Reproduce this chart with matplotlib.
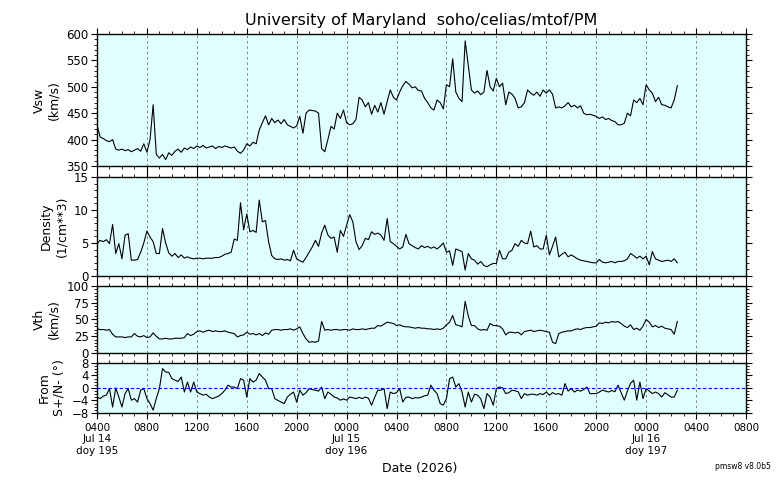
import numpy as np
import pandas as pd
import matplotlib
matplotlib.use('Agg')
import matplotlib.pyplot as plt
import matplotlib.dates as mdates
from matplotlib.ticker import MultipleLocator, FuncFormatter

# 15-minute samples starting 2026-07-14 04:00
start = '2026-07-14 04:00'

vsw = [
    428, 405, 402, 398, 396, 400, 382, 380,
    382, 379, 381, 377, 380, 383, 378, 392,
    376, 400, 466, 372, 365, 372, 362, 375,
    370, 378, 382, 376, 384, 381, 386, 383,
    388, 385, 389, 384, 386, 388, 383, 387,
    385, 388, 386, 384, 386, 378, 374, 380,
    392, 388, 395, 392, 418, 432, 445, 428,
    440, 432, 437, 430, 438, 428, 425, 422,
    426, 444, 412, 450, 456, 455, 454, 450,
    383, 377, 400, 425, 420, 450, 440, 456,
    432, 428, 430, 438, 480, 475, 462, 470,
    448, 465, 452, 470, 448, 472, 494, 480,
    475, 490, 502, 510, 505, 498, 500, 493,
    492, 478, 470, 460, 456, 475, 470, 458,
    504, 500, 553, 490, 478, 472, 587, 540,
    494, 488, 492, 485, 490, 531, 500, 492,
    516, 500, 507, 466, 490, 486, 478, 460,
    462, 470, 494, 488, 484, 490, 482, 494,
    488, 494, 486, 460, 462, 460, 464, 470,
    462, 465, 460, 464, 450, 447, 448, 446,
    444, 440, 443, 438, 440, 436, 434, 428,
    428, 431, 450, 445, 475, 470, 478, 466,
    504, 494, 488, 472, 480, 466, 465, 462,
    460, 475, 502]

density = [
    4.9, 5.4, 5.2, 5.5, 4.9, 7.8, 3.4, 4.9,
    2.6, 6.2, 6.4, 2.4, 2.4, 2.5, 3.6, 5.0,
    6.8, 5.9, 5.2, 3.4, 3.4, 7.2, 5.0, 3.5,
    3.0, 3.4, 2.8, 3.2, 2.7, 2.9, 2.7, 2.6,
    2.7, 2.7, 2.6, 2.7, 2.7, 2.7, 2.8, 2.8,
    3.0, 3.3, 3.4, 3.6, 5.6, 5.4, 11.1, 7.0,
    9.4, 6.7, 6.9, 6.6, 11.5, 8.2, 8.4, 5.2,
    3.1, 2.6, 2.5, 2.6, 2.4, 2.5, 2.3, 3.9,
    2.6, 2.3, 2.1, 2.8, 3.6, 4.4, 5.4, 4.5,
    6.5, 7.7, 6.2, 5.7, 5.9, 3.6, 6.9, 6.0,
    7.7, 9.3, 8.2, 5.2, 4.0, 4.6, 5.7, 5.5,
    6.7, 6.3, 6.5, 6.2, 5.4, 8.7, 5.2, 4.9,
    4.5, 4.1, 4.4, 6.3, 4.9, 4.6, 4.3, 4.1,
    4.6, 4.3, 4.5, 4.2, 4.4, 4.1, 4.5, 5.0,
    3.6, 3.8, 1.6, 4.1, 3.9, 3.7, 0.9, 3.4,
    2.6, 2.4, 1.8, 2.2, 1.6, 1.4, 1.7, 1.9,
    1.9, 3.9, 2.6, 2.6, 3.6, 3.9, 4.9, 4.5,
    5.4, 5.0, 4.9, 6.8, 4.4, 4.6, 4.1, 4.1,
    6.2, 3.2, 4.5, 5.9, 2.9, 3.3, 3.6, 2.9,
    3.2, 2.9, 2.6, 2.4, 2.3, 2.2, 2.1, 2.0,
    2.0, 2.5, 2.1, 2.0, 2.1, 2.2, 2.0, 2.2,
    2.2, 2.3, 2.6, 3.4, 3.1, 2.7, 3.0, 2.6,
    3.0, 1.7, 3.7, 2.6, 2.4, 2.2, 2.3, 2.4,
    2.2, 2.6, 2.0]

vth = [
    36, 35, 35, 34, 35, 28, 24, 24,
    24, 23, 24, 24, 29, 25, 24, 26,
    23, 24, 30, 25, 21, 21, 22, 21,
    21, 22, 22, 22, 23, 29, 26, 28,
    32, 33, 31, 33, 34, 32, 33, 32,
    32, 33, 31, 30, 29, 24, 26, 27,
    31, 28, 29, 27, 29, 26, 30, 28,
    34, 35, 35, 34, 35, 35, 36, 34,
    36, 39, 29, 21, 16, 17, 16, 18,
    47, 34, 35, 34, 35, 35, 34, 35,
    35, 34, 36, 35, 35, 36, 35, 36,
    37, 37, 41, 40, 43, 46, 45, 44,
    41, 42, 40, 39, 39, 38, 37, 38,
    37, 37, 36, 36, 35, 36, 35, 37,
    42, 46, 56, 42, 41, 39, 77, 55,
    41, 41, 36, 34, 35, 34, 44, 41,
    41, 40, 36, 27, 31, 31, 30, 31,
    27, 32, 33, 34, 32, 33, 34, 33,
    32, 31, 16, 14, 29, 31, 32, 33,
    33, 35, 36, 35, 37, 38, 38, 39,
    40, 45, 44, 46, 45, 47, 46, 47,
    44, 40, 38, 42, 35, 37, 34, 40,
    50, 46, 39, 41, 38, 40, 37, 36,
    35, 28, 47]

from_sn = [
    -2.9, -3.4, -2.6, -2.3, -0.2, -6.1, 0.0, -2.9,
    -6.1, -1.8, -0.2, -3.9, -3.4, -4.5, -0.7, -0.2,
    -3.4, -5.0, -7.1, -3.4, -0.2, 6.2, 5.1, 5.0,
    3.0, 2.5, 2.1, 3.5, -1.3, 1.9, -1.3, 1.9,
    -1.3, -1.8, -2.3, -2.0, -2.9, -3.4, -3.0, -2.6,
    -1.8, -0.7, 0.9, 0.3, 0.3, -0.2, 3.0, 2.5,
    -2.9, 3.0, 1.9, 2.5, 4.6, 3.5, 2.5, -0.2,
    -0.2, -3.4, -4.0, -4.5, -5.0, -2.9, -2.0, -1.3,
    -4.5, -0.7, -2.3, -1.5, -0.2, -0.5, -0.7, -1.0,
    0.3, -3.4, -1.3, -2.0, -2.9, -3.2, -3.9, -3.5,
    -3.9, -2.9, -3.1, -3.4, -3.0, -3.4, -2.9, -3.3,
    -5.5, -3.0, -0.7, -0.7, -0.2, -6.6, -1.3, -1.8,
    -1.5, -0.2, -4.5, -3.0, -2.9, -3.4, -3.1, -3.2,
    -2.9, -2.5, -2.3, 0.9, -0.7, -1.8, -5.0, -5.5,
    -3.4, 3.0, 3.5, 0.3, 1.4, -1.3, -6.1, -1.3,
    -4.5, -2.0, -2.3, -3.5, -6.6, -1.8, -2.9, -5.5,
    -0.2, 0.3, 0.0, -1.8, -1.5, -0.7, -0.9, -1.2,
    -3.4, -1.8, -2.3, -2.0, -2.0, -2.3, -1.8, -2.1,
    -1.3, -2.3, -1.5, -2.0, -1.8, -2.3, 1.4, -1.0,
    -0.2, -1.3, -0.7, -1.0, -0.5, 0.3, -1.8, -1.8,
    -1.8, -1.3, -0.7, -1.0, -1.3, -0.8, -1.2, 0.9,
    -1.5, -3.9, -1.0, 1.5, 2.5, -3.9, 1.9, -3.4,
    -0.2, -1.0, -1.8, -1.3, -1.8, -2.9, -1.5, -2.2,
    -2.9, -2.9, -0.7]

times = pd.date_range(start, periods=len(vsw), freq='15min')

panels = [
    (vsw, 'Vsw\n(km/s)', (350, 600), 50, 10),
    (density, 'Density\n(1/cm**3)', (0, 15), 5, 1),
    (vth, 'Vth\n(km/s)', (0, 100), 25, 5),
    (from_sn, 'From\nS+/N- (°)', (-8, 8), 4, 1),
]
# axes boxes in figure fractions (left, bottom, width, height)
boxes = [
    (0.125, 0.6542, 0.8363, 0.2750),
    (0.125, 0.4250, 0.8363, 0.2063),
    (0.125, 0.2646, 0.8363, 0.1396),
    (0.125, 0.1396, 0.8363, 0.1042),
]

xmin = pd.Timestamp('2026-07-14 04:00')
xmax = pd.Timestamp('2026-07-16 08:00')


def fmt_tick(x, pos):
    d = mdates.num2date(x).replace(tzinfo=None)
    s = d.strftime('%H%M')
    if d.hour == 0 or d == xmin.to_pydatetime():
        s += d.strftime('\n%b %d\ndoy %j')
    return s


fig = plt.figure(figsize=(7.76, 4.80), dpi=100)
axes = []
for (vals, label, ylim, major, minor), box in zip(panels, boxes):
    ax = fig.add_axes(box)
    ax.set_facecolor('#e0ffff')
    ax.plot(times, vals, color='black', lw=0.8)
    ax.set_xlim(xmin, xmax)
    ax.set_ylim(*ylim)
    ax.yaxis.set_major_locator(MultipleLocator(major))
    ax.yaxis.set_minor_locator(MultipleLocator(minor))
    ax.xaxis.set_major_locator(mdates.HourLocator(byhour=range(0, 24, 4)))
    ax.xaxis.set_minor_locator(mdates.HourLocator())
    ax.xaxis.set_major_formatter(FuncFormatter(fmt_tick))
    ax.tick_params(which='both', direction='out', top=True, right=True)
    ax.tick_params(which='major', length=4, width=0.8)
    ax.tick_params(which='minor', length=2.5, width=0.6)
    ax.tick_params(axis='y', labelsize=8.5, pad=2)
    ax.tick_params(axis='x', labelsize=7.5, pad=3)
    ax.grid(axis='x', which='major', color='gray', lw=0.7, ls=(0, (2.5, 3)))
    ax.set_ylabel(label, fontsize=9, labelpad=4)
    for sp in ax.spines.values():
        sp.set_linewidth(1.0)
    axes.append(ax)

for ax in axes[:-1]:
    ax.tick_params(axis='x', labelbottom=False)

axes[-1].axhline(0, color='blue', lw=0.8, ls=(0, (3, 2)))
axes[-1].set_yticks([-8, -4, 0, 4, 8])

fig.text(0.543, 0.958, 'University of Maryland  soho/celias/mtof/PM',
         ha='center', va='center', fontsize=11.5)
fig.text(0.541, 0.023, 'Date (2026)', ha='center', va='center', fontsize=9)
fig.text(0.993, 0.028, 'pmsw8 v8.0b5', ha='right', va='center', fontsize=5.5)

fig.savefig('out.png', dpi=100)
